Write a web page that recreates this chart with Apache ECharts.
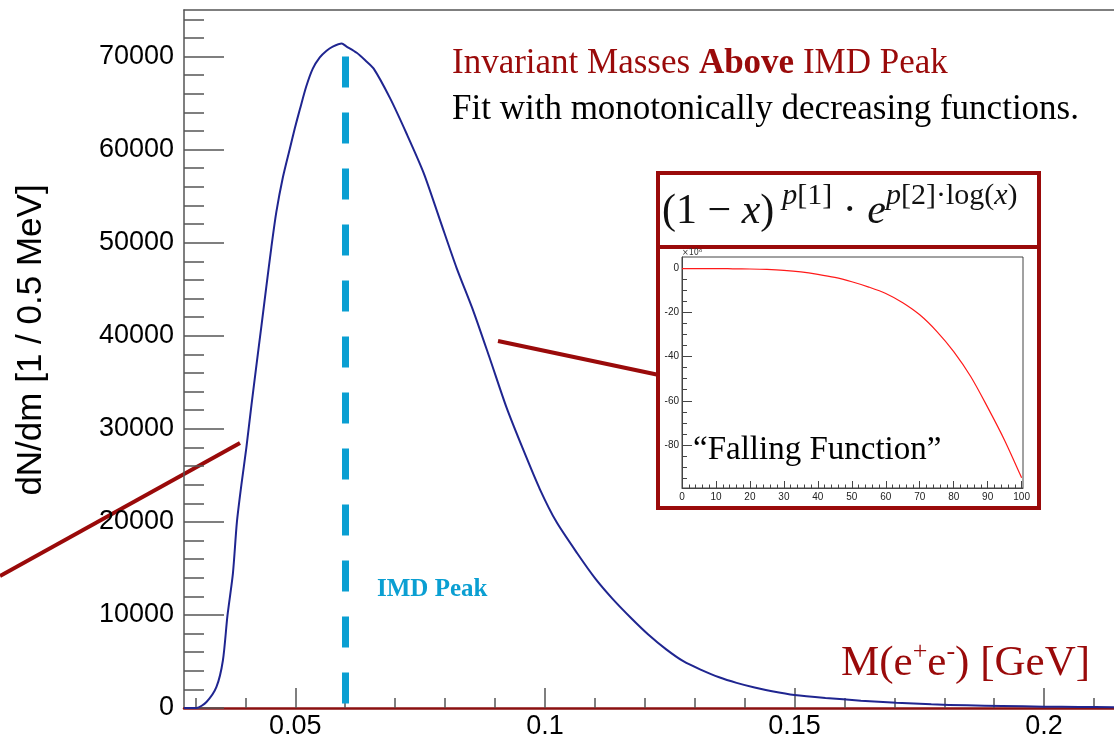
<!DOCTYPE html>
<html><head><meta charset="utf-8">
<script src="https://cdn.jsdelivr.net/npm/echarts@6/dist/echarts.min.js"></script>
<style>html,body{margin:0;padding:0;background:#fff}#c{width:1114px;height:740px}</style>
</head><body><div id="c"></div>
<script>
// ---- main histogram ----
const massGeV = [0.0277, 0.0290, 0.0302, 0.0322, 0.0342, 0.0355, 0.0364, 0.0375, 0.0383, 0.0392, 0.0402,
  0.0412, 0.0422, 0.0432, 0.0442, 0.0452, 0.0462, 0.0475, 0.0489, 0.0499, 0.0509, 0.0522, 0.0535,
  0.0549, 0.0562, 0.0575, 0.0593, 0.0602, 0.0623, 0.0640, 0.0657, 0.0690, 0.0723, 0.0757, 0.0790,
  0.0823, 0.0857, 0.0890, 0.0923, 0.0957, 0.0990, 0.1023, 0.1065, 0.1101, 0.1136, 0.1172, 0.1207,
  0.1243, 0.1278, 0.1313, 0.1349, 0.1384, 0.1420, 0.1455, 0.1500, 0.1562, 0.1633, 0.1704, 0.1774,
  0.1845, 0.1916, 0.2000, 0.2070, 0.2140];
const counts = [0, 0, 0, 650, 2260, 5130, 9900, 14470, 19990, 24000, 28000,
  32500, 36800, 41000, 45300, 49500, 53300, 57000, 60100, 62300, 64300, 66800, 68700,
  69900, 70600, 71060, 71400, 71100, 70400, 69600, 68700, 65500, 61700, 57500, 52400,
  47300, 42600, 37500, 32300, 27700, 23500, 20000, 16600, 13900, 11700, 9700, 7900,
  6300, 5000, 4100, 3300, 2700, 2200, 1800, 1400, 1080, 790, 570, 390,
  290, 215, 145, 110, 90];
const xMajorTicks = [0.05, 0.1, 0.15, 0.2];
const xMajorLabels = ['0.05', '0.1', '0.15', '0.2'];
const xMinorTicks = [0.03, 0.04, 0.05, 0.06, 0.07, 0.08, 0.09, 0.1, 0.11, 0.12, 0.13, 0.14, 0.15, 0.16, 0.17, 0.18, 0.19, 0.2, 0.21];
const yMajorTicks = [0, 10000, 20000, 30000, 40000, 50000, 60000, 70000];
const yMinorTicks = [0, 2000, 4000, 6000, 8000, 10000, 12000, 14000, 16000, 18000, 20000, 22000, 24000, 26000, 28000, 30000,
  32000, 34000, 36000, 38000, 40000, 42000, 44000, 46000, 48000, 50000, 52000, 54000, 56000, 58000, 60000,
  62000, 64000, 66000, 68000, 70000, 72000, 74000];
const peakMass = 0.06;
const peakLineTop = 70000;

// ---- inset "falling function" (units of 10^6) ----
const insetX = [0, 5, 10, 15, 20, 25, 30, 35, 40, 45, 50, 55, 60, 65, 70, 75, 80, 85, 90, 95, 100];
const insetY = [0, 0, 0, -0.1, -0.2, -0.4, -0.8, -1.5, -2.6, -4.0, -6.0, -8.4, -11.3, -15.5, -21, -28.5, -37.7, -49, -63, -78, -95];
const insetXMajor = [0, 10, 20, 30, 40, 50, 60, 70, 80, 90, 100];
const insetXMinor = [2, 4, 6, 8, 12, 14, 16, 18, 22, 24, 26, 28, 32, 34, 36, 38, 42, 44, 46, 48, 52, 54, 56, 58, 62, 64, 66, 68, 72, 74, 76, 78, 82, 84, 86, 88, 92, 94, 96, 98];
const insetYMajor = [-80, -60, -40, -20, 0];
const insetYMinor = [-95, -90, -85, -75, -70, -65, -55, -50, -45, -35, -30, -25, -15, -10, -5];

const histData = massGeV.map((m, i) => [m, counts[i]]);
const insetData = insetX.map((x, i) => [x, insetY[i]]);

const SANS = 'Liberation Sans, Arial, sans-serif';
const SERIF = 'Liberation Serif, Times New Roman, serif';
const DARKRED = '#9a0a0a';
const CYAN = '#0a9fd2';
const TICK = '#555';

const chart = echarts.init(document.getElementById('c'), null, {renderer: 'canvas'});
const X0 = 0.0277, X1 = 0.214, Y0 = 0, Y1 = 75000;

chart.setOption({
  animation: false,
  backgroundColor: '#fff',
  grid: [
    {left: 184, top: 10, right: 0, bottom: 32, show: false},
    {left: 682, top: 257, width: 341, height: 231, show: true, borderColor: '#444', borderWidth: 1, backgroundColor: 'transparent'}
  ],
  xAxis: [
    {gridIndex: 0, type: 'value', min: X0, max: X1, position: 'bottom',
      axisLine: {show: true, onZero: false, lineStyle: {color: '#8b1010', width: 2.5}},
      axisTick: {show: true, inside: true, length: 20, customValues: xMajorTicks, lineStyle: {color: TICK, width: 1.5}},
      axisLabel: {show: true, customValues: xMajorTicks, margin: 5, fontSize: 27, color: '#000', fontFamily: SANS,
        formatter: v => { const i = xMajorTicks.findIndex(t => Math.abs(t - v) < 1e-9); return i >= 0 ? xMajorLabels[i] : ''; }},
      splitLine: {show: false}},
    {gridIndex: 0, type: 'value', min: X0, max: X1, position: 'bottom',
      axisLine: {show: false, onZero: false},
      axisTick: {show: true, inside: true, length: 10, customValues: xMinorTicks, lineStyle: {color: TICK, width: 1.5}},
      axisLabel: {show: false}, splitLine: {show: false}},
    {gridIndex: 0, type: 'value', min: X0, max: X1, position: 'top',
      axisLine: {show: true, onZero: false, lineStyle: {color: '#555', width: 1.5}},
      axisTick: {show: false}, axisLabel: {show: false}, splitLine: {show: false}},
    {gridIndex: 1, type: 'value', min: 0, max: 100.4, position: 'bottom',
      axisLine: {show: true, onZero: false, lineStyle: {color: '#444', width: 1}},
      axisTick: {show: true, inside: true, length: 7, customValues: insetXMajor, lineStyle: {color: '#444', width: 1}},
      axisLabel: {show: true, customValues: insetXMajor, margin: 4, fontSize: 10, color: '#222', fontFamily: SANS},
      splitLine: {show: false}},
    {gridIndex: 1, type: 'value', min: 0, max: 100.4, position: 'bottom',
      axisLine: {show: false, onZero: false},
      axisTick: {show: true, inside: true, length: 3.5, customValues: insetXMinor, lineStyle: {color: '#444', width: 1}},
      axisLabel: {show: false}, splitLine: {show: false}}
  ],
  yAxis: [
    {gridIndex: 0, type: 'value', min: Y0, max: Y1, position: 'left',
      axisLine: {show: true, onZero: false, lineStyle: {color: '#555', width: 1.5}},
      axisTick: {show: true, inside: true, length: 40, customValues: yMajorTicks, lineStyle: {color: TICK, width: 1.5}},
      axisLabel: {show: true, customValues: yMajorTicks, margin: 10, fontSize: 27, color: '#000', fontFamily: SANS,
        formatter: v => String(Math.round(v))},
      splitLine: {show: false}},
    {gridIndex: 0, type: 'value', min: Y0, max: Y1, position: 'left',
      axisLine: {show: false, onZero: false},
      axisTick: {show: true, inside: true, length: 20, customValues: yMinorTicks, lineStyle: {color: TICK, width: 1.5}},
      axisLabel: {show: false}, splitLine: {show: false}},
    {gridIndex: 1, type: 'value', min: -99.6, max: 5.25, position: 'left',
      axisLine: {show: true, onZero: false, lineStyle: {color: '#444', width: 1}},
      axisTick: {show: true, inside: true, length: 10, customValues: insetYMajor, lineStyle: {color: '#444', width: 1}},
      axisLabel: {show: true, customValues: insetYMajor, margin: 3, fontSize: 10, color: '#222', fontFamily: SANS,
        formatter: v => String(Math.round(v))},
      splitLine: {show: false}},
    {gridIndex: 1, type: 'value', min: -99.6, max: 5.25, position: 'left',
      axisLine: {show: false, onZero: false},
      axisTick: {show: true, inside: true, length: 5, customValues: insetYMinor, lineStyle: {color: '#444', width: 1}},
      axisLabel: {show: false}, splitLine: {show: false}}
  ],
  series: [
    {type: 'line', xAxisIndex: 0, yAxisIndex: 0, data: histData, showSymbol: false, silent: true, smooth: 0.25,
      lineStyle: {color: '#1f2590', width: 2}, z: 3,
      markLine: {silent: true, symbol: ['none', 'none'], label: {show: false},
        lineStyle: {color: CYAN, width: 7, type: [31, 25], cap: 'butt'},
        data: [[{coord: [peakMass, peakLineTop]}, {coord: [peakMass, 0]}]]}},
    {type: 'line', xAxisIndex: 3, yAxisIndex: 2, data: insetData, showSymbol: false, silent: true, smooth: 0.3,
      lineStyle: {color: '#ff1a1a', width: 1.2}}
  ],
  graphic: [
    {type: 'text', x: 31, y: 340, rotation: Math.PI / 2,
      style: {text: 'dN/dm [1 / 0.5 MeV]', font: '35px ' + SANS, fill: '#000', align: 'center', verticalAlign: 'middle'}},
    {type: 'text', x: 452, y: 64,
      style: {text: '{r|Invariant Masses }{b|Above}{r| IMD Peak}', align: 'left', verticalAlign: 'middle',
        rich: {r: {fontFamily: SERIF, fontSize: 35, fill: DARKRED}, b: {fontFamily: SERIF, fontSize: 35, fontWeight: 'bold', fill: DARKRED}}}},
    {type: 'text', x: 452, y: 110,
      style: {text: 'Fit with monotonically decreasing functions.', font: '35px ' + SERIF, fill: '#000', align: 'left', verticalAlign: 'middle'}},
    {type: 'text', x: 377, y: 590,
      style: {text: 'IMD Peak', font: 'bold 25px ' + SERIF, fill: CYAN, align: 'left', verticalAlign: 'middle'}},
    {type: 'text', x: 1090, y: 685,
      style: {text: '{a|M(e}{s|+}{a|e}{s|-}{a|) [GeV]}', align: 'right', verticalAlign: 'bottom',
        rich: {a: {fontFamily: SERIF, fontSize: 43, lineHeight: 50, verticalAlign: 'bottom', fill: DARKRED},
               s: {fontFamily: SERIF, fontSize: 26, lineHeight: 26, padding: [0, 0, 20, 0], verticalAlign: 'bottom', fill: DARKRED}}}},
    // annotation lines
    {type: 'line', shape: {x1: 0, y1: 576, x2: 240, y2: 443}, style: {stroke: DARKRED, lineWidth: 4}},
    {type: 'line', shape: {x1: 498, y1: 341, x2: 659, y2: 375}, style: {stroke: DARKRED, lineWidth: 4}},
    // inset box
    {type: 'rect', shape: {x: 658, y: 173, width: 381, height: 335}, style: {stroke: DARKRED, lineWidth: 4, fill: null}},
    {type: 'line', shape: {x1: 658, y1: 247, x2: 1039, y2: 247}, style: {stroke: DARKRED, lineWidth: 4}},
    {type: 'text', x: 662, y: 209,
      style: {text: '{m|(1 − }{mi|x}{m|)}{s1|p}{s|[1]}{m| · }{mi|e}{si|p}{s|[2]·log(}{si|x}{s|)}', align: 'left', verticalAlign: 'middle',
        rich: {
          m: {fontFamily: SERIF, fontSize: 42, lineHeight: 48, verticalAlign: 'bottom', fill: '#111'},
          mi: {fontFamily: SERIF, fontSize: 42, fontStyle: 'italic', lineHeight: 48, verticalAlign: 'bottom', fill: '#111'},
          s: {fontFamily: SERIF, fontSize: 30, lineHeight: 30, padding: [0, 0, 22, 0], verticalAlign: 'bottom', fill: '#111'},
          s1: {fontFamily: SERIF, fontSize: 30, fontStyle: 'italic', lineHeight: 30, padding: [0, 0, 22, 8], verticalAlign: 'bottom', fill: '#111'},
          si: {fontFamily: SERIF, fontSize: 30, fontStyle: 'italic', lineHeight: 30, padding: [0, 0, 22, 0], verticalAlign: 'bottom', fill: '#111'}
        }}},
    {type: 'text', x: 682, y: 253,
      style: {text: '×10⁶', font: '8px DejaVu Sans, sans-serif', fill: '#333', align: 'left', verticalAlign: 'middle'}},
    {type: 'text', x: 693, y: 450,
      style: {text: '“Falling Function”', font: '33px ' + SERIF, fill: '#000', align: 'left', verticalAlign: 'middle'}}
  ]
});
</script>
</body></html>
